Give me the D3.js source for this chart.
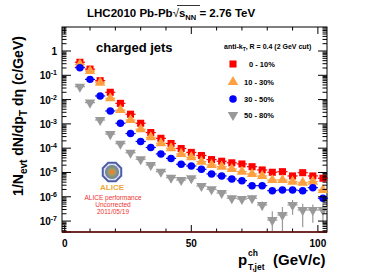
<!DOCTYPE html>
<html>
<head>
<meta charset="utf-8">
<script src="https://cdn.jsdelivr.net/npm/d3@7"></script>
<style>
  body { margin: 0; background: #fff; }
  svg { display: block; font-family: "Liberation Sans", Arial, sans-serif; font-weight: bold; }
</style>
</head>
<body>
<div id="chart"></div>
<script>
// jet pT bin centres (GeV/c)
const ptBins = [6, 10, 14, 18, 22, 26, 30, 34, 38, 42, 46, 50, 54, 58, 62, 66, 70, 74, 78, 82, 86, 90, 94, 98, 102];
const binHalfWidth = 2;

const cent0010 = [0.343, 0.18, 0.06, 0.02, 7.0e-3, 2.5e-3, 1.06e-3, 4.4e-4, 2.55e-4, 1.56e-4, 9.7e-5, 6.7e-5, 5.0e-5,
  3.4e-5, 2.9e-5, 2.5e-5, 2.24e-5, 1.73e-5, 1.27e-5, 1.02e-5, 1.08e-5, 7.2e-6, 9.8e-6, 7.2e-6, 5.8e-6];
const cent1030 = [0.28, 0.15, 0.0496, 0.0113, 3.7e-3, 1.45e-3, 6.0e-4, 2.8e-4, 1.6e-4, 9.9e-5, 5.8e-5, 4.2e-5, 2.8e-5,
  2.04e-5, 1.73e-5, 1.39e-5, 1.08e-5, 8.7e-6, 7.2e-6, 4.9e-6, 4.9e-6, 4.2e-6, 3.8e-6, 4.2e-6, 1.9e-6];
const cent3050 = [0.206, 0.068, 0.0141, 3.4e-3, 1.06e-3, 4.0e-4, 1.89e-4, 1.07e-4, 5.8e-5, 3.8e-5, 2.17e-5, 1.85e-5, 1.35e-5,
  8.7e-6, 7.2e-6, 5.4e-6, 4.6e-6, 2.86e-6, 2.86e-6, 1.78e-6, 1.9e-6, 1.9e-6, 1.78e-6, 2.37e-6, 8.7e-7];
const cent5080 = [0.034, 7.5e-3, 1.45e-3, 3.8e-4, 1.53e-4, 6.5e-5, 3.5e-5, 2.04e-5, 1.08e-5, 6.1e-6, 4.9e-6, 5.8e-6, 2.78e-6,
  2.04e-6, 1.43e-6, 8.7e-7, 8.1e-7, 8.7e-7, 4.6e-7, 1.1e-7, 1.78e-7, 4.6e-7, 2.86e-7, 2.86e-7, 2.86e-7];
// statistical errors of the peripheral bin (absolute)
const err5080 = [1e-3, 2e-4, 4e-5, 1.2e-5, 5e-6, 2.5e-6, 1.5e-6, 1e-6, 6e-7, 4e-7, 4e-7, 5e-7, 4e-7,
  4e-7, 3.5e-7, 2.6e-7, 2.4e-7, 2.6e-7, 1.8e-7, 1.45e-7, 2e-7, 2.8e-7, 2.3e-7, 2e-7, 2e-7];

const seriesNames = ["0 - 10%", "10 - 30%", "30 - 50%", "50 - 80%"];
const yTickExps = [0, -1, -2, -3, -4, -5, -6, -7];
const xTickLabels = [0, 50, 100];

const series = [
  {name: seriesNames[0], values: cent0010, color: "#ff0000", shape: "square"},
  {name: seriesNames[1], values: cent1030, color: "#ffa040", shape: "up"},
  {name: seriesNames[2], values: cent3050, color: "#0000ff", shape: "circle"},
  {name: seriesNames[3], values: cent5080, color: "#999999", shape: "down", errors: err5080}
];

const W = 382, H = 274;
const svg = d3.select("#chart").append("svg").attr("width", W).attr("height", H);

const plotTop = 27, plotBottom = 232, plotLeft = 62, plotRight = 327;
const x = d3.scaleLinear().domain([-1.07, 103.6]).range([plotLeft, plotRight]);
const y = d3.scaleLog().domain([Math.pow(10, -7.45), Math.pow(10, 0.988)]).range([plotBottom, plotTop]).clamp(true);

// frame
svg.append("rect").attr("x", plotLeft).attr("y", plotTop).attr("width", plotRight - plotLeft).attr("height", plotBottom - plotTop)
  .attr("fill", "none").attr("stroke", "#000").attr("stroke-width", 1);

// symbols
function markerPath(shape) {
  if (shape === "square") return d3.symbol(d3.symbolSquare, 50)();
  if (shape === "circle") return d3.symbol(d3.symbolCircle, 44)();
  return d3.symbol(d3.symbolTriangle, 48)();
}

const plot = svg.append("g");
series.forEach(s => {
  const g = plot.append("g");
  const pts = ptBins.map((pt, i) => ({pt, v: s.values[i], e: s.errors ? s.errors[i] : 0}));
  // horizontal bin-width bars
  g.selectAll("line.h").data(pts).join("line")
    .attr("x1", d => x(d.pt - binHalfWidth)).attr("x2", d => x(d.pt + binHalfWidth))
    .attr("y1", d => y(d.v)).attr("y2", d => y(d.v))
    .attr("stroke", s.color).attr("stroke-width", 1.2);
  // vertical error bars
  g.selectAll("line.v").data(pts.filter(d => d.e > 0)).join("line")
    .attr("x1", d => x(d.pt)).attr("x2", d => x(d.pt))
    .attr("y1", d => y(d.v + d.e)).attr("y2", d => d.v - d.e > 0 ? y(d.v - d.e) : plotBottom)
    .attr("stroke", s.color).attr("stroke-width", 1.2);
  g.selectAll("path").data(pts).join("path")
    .attr("d", markerPath(s.shape))
    .attr("transform", d => `translate(${x(d.pt)},${y(d.v)})${s.shape === "down" ? " rotate(180)" : ""}`)
    .attr("fill", s.color);
});

// axes ticks
const axes = svg.append("g").attr("stroke", "#000").attr("stroke-width", 1);
for (let e = -8; e <= 0; e++) {
  for (let m = 1; m <= 9; m++) {
    const v = m * Math.pow(10, e);
    const py = y(v);
    if (py < plotTop || py > plotBottom) continue;
    const len = m === 1 ? 9 : 4.5;
    axes.append("line").attr("x1", plotLeft).attr("x2", plotLeft + len).attr("y1", py).attr("y2", py);
    axes.append("line").attr("x1", plotRight).attr("x2", plotRight - len).attr("y1", py).attr("y2", py);
  }
}
d3.range(0, 101, 10).forEach(v => {
  const px = x(v);
  const len = v % 50 === 0 ? 7 : 3.5;
  axes.append("line").attr("x1", px).attr("x2", px).attr("y1", plotBottom).attr("y2", plotBottom - len);
  axes.append("line").attr("x1", px).attr("x2", px).attr("y1", plotTop).attr("y2", plotTop + len);
});
svg.append("line").attr("x1", plotLeft).attr("x2", plotRight).attr("y1", plotBottom).attr("y2", plotBottom)
  .attr("stroke", "#6b1010").attr("stroke-width", 1.3);

// y tick labels
yTickExps.forEach(e => {
  const t = svg.append("text").attr("x", 57).attr("y", y(Math.pow(10, e)) + 4)
    .attr("text-anchor", "end").attr("font-size", 10);
  if (e === 0) t.text("1");
  else {
    t.append("tspan").text("10");
    t.append("tspan").attr("dy", -4).attr("font-size", 7).text(String(e));
  }
});
// x tick labels
xTickLabels.forEach(v => {
  svg.append("text").attr("x", x(v)).attr("y", 247).attr("text-anchor", "middle")
    .attr("font-size", 10).text(v);
});

// title
const title = svg.append("text").attr("x", 87).attr("y", 17).attr("font-size", 11.5);
title.append("tspan").text("LHC2010 Pb-Pb");
title.append("tspan").attr("font-weight", "normal").text("\u221A");
title.append("tspan").text("s");
title.append("tspan").attr("font-size", 7.5).attr("dy", 3).text("NN");
title.append("tspan").attr("dy", -3).text(" = 2.76 TeV");
svg.append("line").attr("x1", 177).attr("x2", 200).attr("y1", 5.5).attr("y2", 5.5)
  .attr("stroke", "#000").attr("stroke-width", 0.8);

// y axis title
const yt = svg.append("text").attr("transform", "translate(23,116) rotate(-90)")
  .attr("text-anchor", "middle").attr("font-size", 14);
yt.append("tspan").text("1/N");
yt.append("tspan").attr("font-size", 10).attr("dy", 4).text("evt");
yt.append("tspan").attr("dy", -4).text(" dN/dp");
yt.append("tspan").attr("font-size", 10).attr("dy", 4).text("T");
yt.append("tspan").attr("dy", -4).text(" d\u03B7 (c/GeV)");

// x axis title
const xt = svg.append("text").attr("x", 238).attr("y", 265).attr("font-size", 15);
xt.append("tspan").text("p");
xt.append("tspan").attr("font-size", 8.5).attr("x", 248).attr("y", 256).text("ch");
xt.append("tspan").attr("font-size", 8.5).attr("x", 248).attr("y", 270).text("T,jet");
xt.append("tspan").attr("x", 273).attr("y", 265).text("(GeV/c)");

// "charged jets"
svg.append("text").attr("x", 96).attr("y", 52).attr("font-size", 13).text("charged jets");

// legend
const lh = svg.append("text").attr("x", 224).attr("y", 49).attr("font-size", 7);
lh.append("tspan").text("anti-k");
lh.append("tspan").attr("font-size", 5).attr("dy", 2).text("T");
lh.append("tspan").attr("dy", -2).text(", R = 0.4 (2 GeV cut)");
const legY = [64, 82, 99, 115];
series.forEach((s, i) => {
  svg.append("path").attr("d", markerPath(s.shape))
    .attr("transform", `translate(233,${legY[i]})${s.shape === "down" ? " rotate(180)" : ""}`)
    .attr("fill", s.color);
  svg.append("text").attr("x", i === 0 ? 249 : 244).attr("y", legY[i] + 3).attr("font-size", 7.5).text(s.name);
});

// ALICE logo
const logo = svg.append("g").attr("transform", "translate(112,172)");
const defs = svg.append("defs");
const grad = defs.append("radialGradient").attr("id", "alg");
grad.append("stop").attr("offset", "0%").attr("stop-color", "#c8a060");
grad.append("stop").attr("offset", "60%").attr("stop-color", "#8a9a7a");
grad.append("stop").attr("offset", "100%").attr("stop-color", "#6a7aa0");
const oct = d3.range(8).map(k => {
  const a = Math.PI / 8 + k * Math.PI / 4;
  return [10 * Math.cos(a), 10 * Math.sin(a)];
});
logo.append("polygon").attr("points", oct.map(p => p.join(",")).join(" "))
  .attr("fill", "#dfe3ef").attr("stroke", "#4a5fa8").attr("stroke-width", 2);
logo.append("circle").attr("r", 7).attr("fill", "url(#alg)");
logo.append("path").attr("d", d3.symbol(d3.symbolStar, 18)()).attr("fill", "#f08020");
svg.append("text").attr("x", 112).attr("y", 190).attr("text-anchor", "middle")
  .attr("font-size", 8).attr("fill", "#f0a838").text("ALICE");
["ALICE performance", "Uncorrected", "2011/05/19"].forEach((t, i) => {
  svg.append("text").attr("x", 113).attr("y", 200 + i * 7).attr("text-anchor", "middle")
    .attr("font-size", 6.5).attr("font-weight", "normal").attr("fill", "#ee3333").text(t);
});
</script>
</body>
</html>
